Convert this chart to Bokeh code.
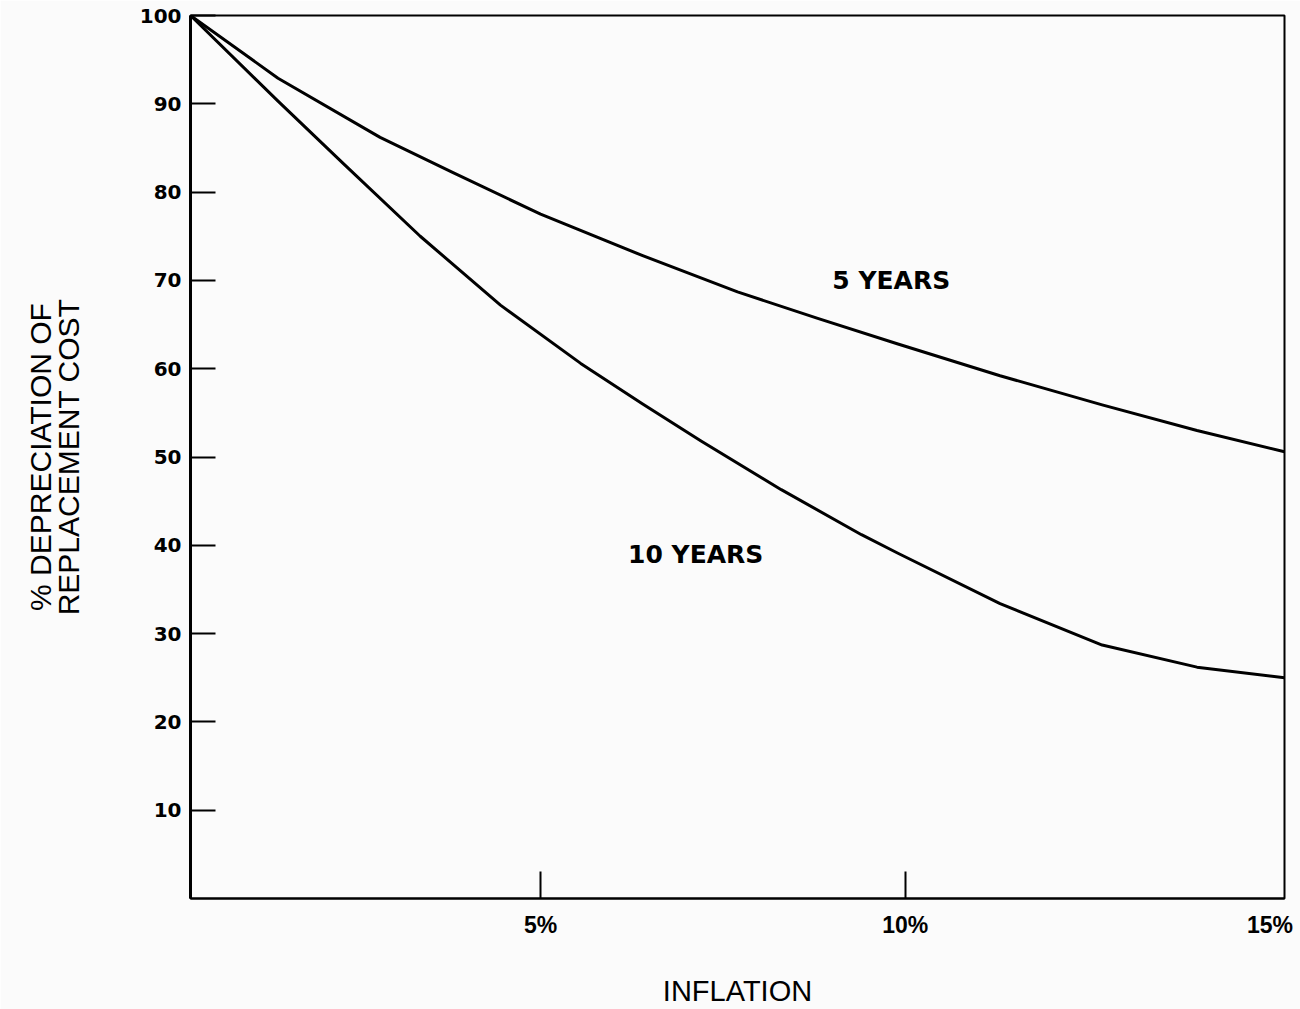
from bokeh.plotting import figure
from bokeh.models import FixedTicker, Label, Range1d
from bokeh.embed import file_html
from bokeh.resources import INLINE

# Inflation (%) and remaining value (% of replacement cost)
x_5yr = [0.2, 1.4, 2.8, 3.8, 5.0, 6.4, 7.7, 8.8, 9.9, 11.3, 12.7, 14.0, 15.2]
y_5yr = [100, 92.9, 86.2, 82.2, 77.5, 72.8, 68.7, 65.7, 62.8, 59.2, 55.9, 53.0, 50.6]

x_10yr = [0.2, 1.4, 2.3, 3.35, 4.45, 5.55, 6.4, 7.2, 8.3, 9.4, 9.9, 11.3, 12.7, 14.0, 15.2]
y_10yr = [100, 90.3, 83.2, 75.0, 67.2, 60.6, 56.0, 51.8, 46.3, 41.2, 39.1, 33.4, 28.7, 26.2, 25.0]

x_ticks = [5, 10, 15]
x_tick_labels = ["5%", "10%", "15%"]
x_tick_marks = [5, 10]
y_ticks = [10, 20, 30, 40, 50, 60, 70, 80, 90, 100]
y_tick_labels = ["10", "20", "30", "40", "50", "60", "70", "80", "90", "100"]

BG = "#fbfbfb"
SANS = "Liberation Sans"

p = figure(width=1300, height=1009, output_backend="svg", toolbar_location=None,
           x_range=Range1d(0.2, 15.2), y_range=Range1d(0, 100),
           min_border_left=190, min_border_right=16, min_border_top=15, min_border_bottom=110)
p.background_fill_color = BG
p.border_fill_color = BG
p.outline_line_color = "black"
p.outline_line_width = 2
p.outline_line_alpha = 1
p.xgrid.visible = False
p.ygrid.visible = False

p.line(x_5yr, y_5yr, line_color="black", line_width=3, line_join="round")
p.line(x_10yr, y_10yr, line_color="black", line_width=3, line_join="round")

# x axis: labels at 5/10/15, tick marks only at 5 and 10
xa = p.xaxis[0]
xa.ticker = FixedTicker(ticks=x_ticks, minor_ticks=x_tick_marks)
xa.major_label_overrides = {t: l for t, l in zip(x_ticks, x_tick_labels)}
xa.major_tick_in = 0
xa.major_tick_out = 0
xa.minor_tick_in = 27
xa.minor_tick_out = 0
xa.minor_tick_line_width = 2
xa.minor_tick_line_color = "black"
xa.axis_line_width = 2
xa.axis_line_color = "black"
xa.major_label_standoff = 13
xa.major_label_text_font = SANS
xa.major_label_text_font_style = "bold"
xa.major_label_text_font_size = "23px"
xa.major_label_text_color = "black"
xa.axis_label = "INFLATION"
xa.axis_label_text_font = SANS
xa.axis_label_text_font_style = "normal"
xa.axis_label_text_font_size = "29px"
xa.axis_label_text_color = "black"
xa.axis_label_standoff = 34

# y axis
ya = p.yaxis[0]
ya.ticker = FixedTicker(ticks=y_ticks)
ya.major_label_overrides = {t: l for t, l in zip(y_ticks, y_tick_labels)}
ya.major_tick_in = 25
ya.major_tick_out = 0
ya.minor_tick_in = 0
ya.minor_tick_out = 0
ya.major_tick_line_width = 2
ya.axis_line_width = 3
ya.axis_line_color = "black"
ya.major_tick_line_color = "black"
ya.major_label_standoff = 9
ya.major_label_text_font = "DejaVu Sans"
ya.major_label_text_font_style = "bold"
ya.major_label_text_font_size = "20px"
ya.major_label_text_color = "black"
ya.axis_label = "% DEPRECIATION OF\nREPLACEMENT COST"
ya.axis_label_text_font = SANS
ya.axis_label_text_font_style = "normal"
ya.axis_label_text_font_size = "30px"
ya.axis_label_text_line_height = 0.85
ya.axis_label_text_color = "black"
ya.axis_label_standoff = 52

# curve annotations
p.add_layout(Label(x=9.0, y=70, text="5  YEARS", text_font="DejaVu Sans",
                   text_font_style="bold", text_font_size="25px", text_color="black",
                   text_baseline="middle", text_align="left"))
p.add_layout(Label(x=6.2, y=39, text="10  YEARS", text_font="DejaVu Sans",
                   text_font_style="bold", text_font_size="25px", text_color="black",
                   text_baseline="middle", text_align="left"))

open("out.html", "w").write(file_html(p, INLINE))
